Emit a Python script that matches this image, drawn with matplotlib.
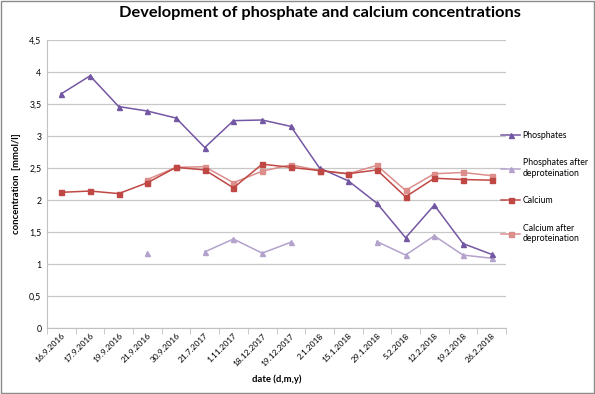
import numpy as np
import matplotlib
matplotlib.use("Agg")
import matplotlib.pyplot as plt
from matplotlib.ticker import FuncFormatter, FixedLocator

plt.rcParams['font.family'] = ['Lato', 'DejaVu Sans']

dates = ["16.9.2016", "17.9.2016", "19.9.2016", "21.9.2016", "30.9.2016", "21.7.2017",
         "1.11.2017", "18.12.2017", "19.12.2017", "2.1.2018", "15.1.2018", "29.1.2018",
         "5.2.2018", "12.2.2018", "19.2.2018", "26.2.2018"]
nan = np.nan
phosphates = [3.66, 3.94, 3.46, 3.39, 3.28, 2.82, 3.24, 3.25, 3.15, 2.50, 2.30, 1.95,
              1.41, 1.92, 1.32, 1.15]
phos_deprot = [nan, nan, nan, 1.17, nan, 1.19, 1.39, 1.17, 1.34, nan, nan, 1.35,
               1.14, 1.44, 1.14, 1.09]
calcium = [2.12, 2.14, 2.10, 2.27, 2.51, 2.47, 2.19, 2.56, 2.51, 2.46, 2.41, 2.47,
           2.05, 2.34, 2.32, 2.31]
calc_deprot = [nan, nan, nan, 2.32, 2.51, 2.52, 2.27, 2.45, 2.55, 2.46, 2.41, 2.54,
               2.15, 2.41, 2.43, 2.38]

fig = plt.figure(figsize=(5.95, 3.94), dpi=100)
ax = fig.add_axes([47/595, 1 - 328/394, (506-47)/595, (328-40)/394])

x = np.arange(len(dates))
ax.plot(x, phosphates, color='#7457a3', marker='^', ms=3.6, lw=1.1, label='Phosphates', zorder=4)
ax.plot(x, phos_deprot, color='#b3a2cc', marker='^', ms=3.6, lw=1.1,
        label='Phosphates after\ndeproteination', zorder=3)
ax.plot(x, calc_deprot, color='#dc8e8b', marker='s', ms=3.6, lw=1.1,
        label='Calcium after\ndeproteination', zorder=3)
ax.plot(x, calcium, color='#bf4744', marker='s', ms=3.6, lw=1.1, label='Calcium', zorder=4)

ax.set_xlim(-0.5, len(dates) - 0.5)
ax.set_ylim(0, 4.5)
ax.set_yticks(np.arange(0, 4.51, 0.5))
ax.yaxis.set_major_formatter(FuncFormatter(lambda v, p: ('%g' % v).replace('.', ',')))
ax.grid(axis='y', color='#c8c8c8', lw=0.9)
ax.set_axisbelow(True)
for s in ['top', 'right']:
    ax.spines[s].set_visible(False)
ax.spines['left'].set_color('#c0c0c0')
ax.spines['bottom'].set_color('#c0c0c0')
ax.tick_params(axis='y', length=0, labelsize=6.3, pad=4)
ax.set_xticks(x)
ax.set_xticklabels(dates, rotation=45, ha='right', rotation_mode='anchor', fontsize=6)
ax.tick_params(axis='x', length=0, pad=3)
ax.xaxis.set_minor_locator(FixedLocator(np.arange(-0.5, len(dates), 1)))
ax.tick_params(axis='x', which='minor', length=4, color='#c0c0c0', direction='out')

ax.set_xlabel('date (d,m,y)', fontsize=6.8, fontweight='bold', labelpad=5)
ax.set_ylabel('concentration  [mmol/l]', fontsize=6.8, fontweight='bold', labelpad=6)
fig.suptitle('Development of phosphate and calcium concentrations', fontsize=11.8,
             fontweight='bold', x=0.537, y=0.985)

h, l = ax.get_legend_handles_labels()
order = [0, 1, 3, 2]
fig.legend([h[i] for i in order], [l[i] for i in order], loc='upper left',
           bbox_to_anchor=(0.832, 0.683), frameon=False, fontsize=6.3,
           handlelength=2.2, labelspacing=2.1, handletextpad=0.25, borderaxespad=0.3)

fig.patches.append(plt.Rectangle((0.002, 0.002), 0.996, 0.996, transform=fig.transFigure,
                                 fill=False, edgecolor='#8a8a8a', lw=1))
fig.savefig('out.png', dpi=100)
